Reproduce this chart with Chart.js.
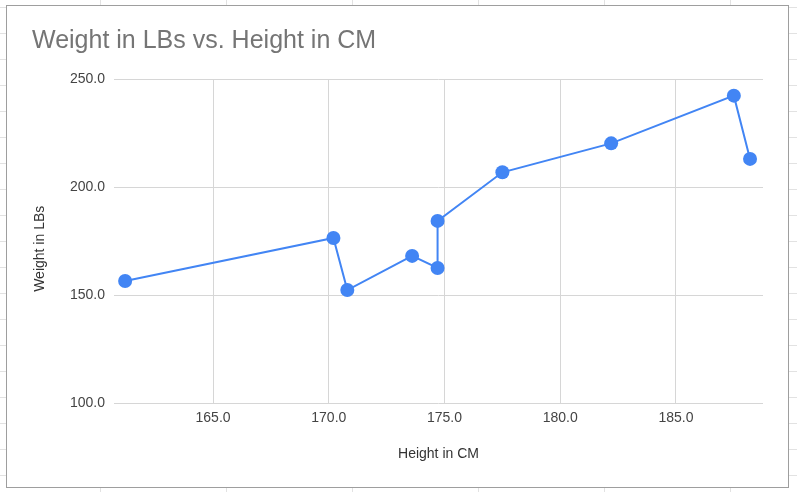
<!DOCTYPE html>
<html>
<head>
<meta charset="utf-8">
<title>Weight in LBs vs. Height in CM</title>
<script src="https://cdn.jsdelivr.net/npm/chart.js@4/dist/chart.umd.min.js"></script>
<style>
  html, body {
    margin: 0;
    padding: 0;
    width: 797px;
    height: 492px;
    overflow: hidden;
  }
  body {
    position: relative;
    background-color: #ffffff;
    background-image:
      linear-gradient(to right, #e2e2e2 1px, transparent 1px),
      linear-gradient(to bottom, #e2e2e2 1px, transparent 1px);
    background-size: 126px 26px;
    background-position: 100px 33px;
  }
  #marco {
    position: absolute;
    left: 6px;
    top: 5px;
    width: 783px;
    height: 483px;
    box-sizing: border-box;
    border: 1px solid #9e9e9e;
    background: #ffffff;
  }
  #contenedor {
    position: absolute;
    left: 0;
    top: 0;
    width: 797px;
    height: 492px;
  }
</style>
</head>
<body>
<div id="marco"></div>
<div id="contenedor">
  <canvas id="grafico"></canvas>
</div>
<script>
// valores
const alturas = [161.2, 170.2, 170.8, 173.6, 174.7, 174.7, 177.5, 182.2, 187.5, 188.2];
const pesos = [156.5, 176.4, 152.3, 168.1, 162.5, 184.3, 206.8, 220.2, 242.3, 213.0];

const titulo = "Weight in LBs vs. Height in CM";
const tituloX = "Height in CM";
const tituloY = "Weight in LBs";

const xMin = 160.72;
const xMax = 188.76;
const yMin = 100;
const yMax = 250;

const fuente = "Arial, 'Liberation Sans', sans-serif";
const azul = "#4285f4";
const gris = "#d6d6d6";

function armarPuntos() {
  return alturas.map((altura, i) => ({ x: altura, y: pesos[i] }));
}

function formatoTick(valor) {
  return Number(valor).toFixed(1);
}

const config = {
  type: "scatter",
  data: {
    datasets: [
      {
        label: tituloY,
        data: armarPuntos(),
        showLine: true,
        borderColor: azul,
        backgroundColor: azul,
        borderWidth: 2,
        pointRadius: 7,
        pointHoverRadius: 7,
        pointBorderWidth: 0,
        tension: 0,
      },
    ],
  },
  options: {
    responsive: true,
    maintainAspectRatio: false,
    animation: false,
    layout: {
      padding: { left: 32, right: 34, top: 0, bottom: 0 },
    },
    plugins: {
      legend: { display: false },
      tooltip: { enabled: false },
      title: {
        display: true,
        text: titulo,
        align: "start",
        color: "#757575",
        font: { family: fuente, size: 25, weight: "normal" },
        padding: { top: 26, bottom: 23 },
      },
    },
    scales: {
      x: {
        type: "linear",
        min: xMin,
        max: xMax,
        border: { display: false },
        grid: { color: gris, drawTicks: false },
        ticks: {
          stepSize: 5,
          includeBounds: false,
          padding: 7,
          color: "#444444",
          font: { family: fuente, size: 14 },
          callback: formatoTick,
        },
        title: {
          display: true,
          text: tituloX,
          color: "#333333",
          font: { family: fuente, size: 14 },
          padding: { top: 0, bottom: 29 },
        },
        afterFit: (escala) => {
          escala.height = 89;
        },
      },
      y: {
        min: yMin,
        max: yMax,
        border: { display: false },
        grid: { color: gris, drawTicks: false },
        ticks: {
          stepSize: 50,
          padding: 9,
          color: "#444444",
          font: { family: fuente, size: 14 },
          callback: formatoTick,
        },
        title: {
          display: true,
          // espacios al final para bajar un poco el texto girado
          text: tituloY + "\u00a0\u00a0\u00a0\u00a0",
          color: "#333333",
          font: { family: fuente, size: 14 },
          padding: { top: 0, bottom: 0 },
        },
        afterFit: (escala) => {
          escala.width = 82;
        },
      },
    },
  },
};

function renderGrafico() {
  const chartDOM = document.getElementById("grafico");
  new Chart(chartDOM, config);
}

renderGrafico();
</script>
</body>
</html>
